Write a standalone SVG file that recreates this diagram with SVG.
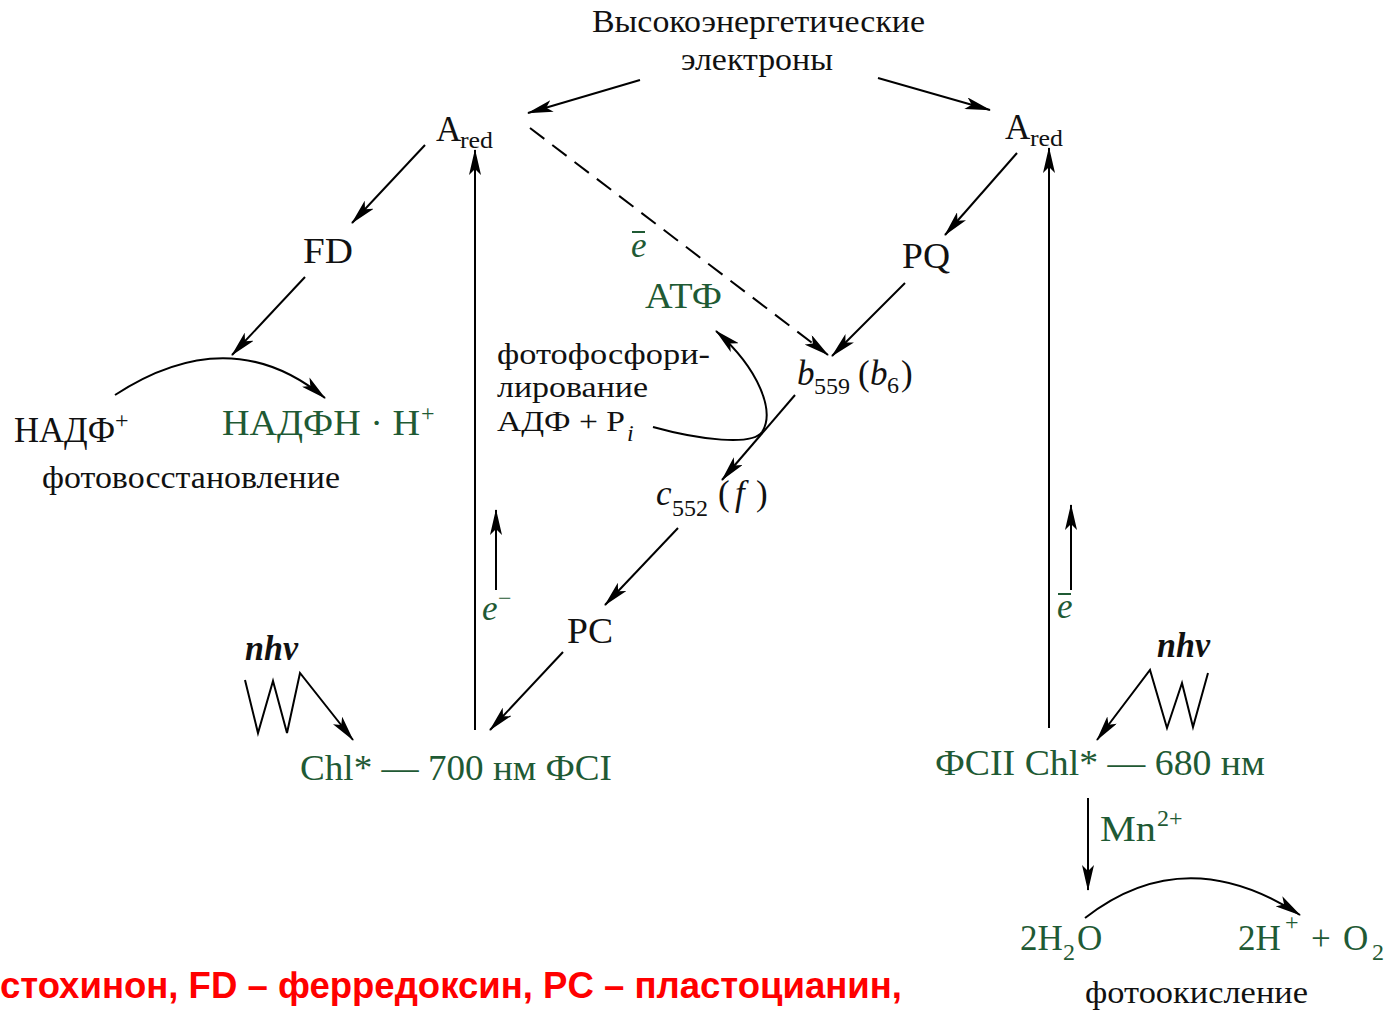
<svg xmlns="http://www.w3.org/2000/svg" width="1395" height="1011" viewBox="0 0 1395 1011">
<defs>
<marker id="ah" viewBox="0 0 26 12" refX="25" refY="6" markerWidth="26" markerHeight="12" orient="auto" markerUnits="userSpaceOnUse">
<path d="M0,0 L26,6 L0,12 L6,6 z" fill="#000"/>
</marker>
<style>
.t{font-family:"Liberation Serif","Times New Roman",serif;font-size:35px;fill:#111}
.g{fill:#1f5a34}
.i{font-style:italic}
.sm{font-size:32px}
.xs{font-size:29px}
.sub{font-size:24px}
.c{fill:none;stroke:#000;stroke-width:2}
.a{marker-end:url(#ah)}
.red{font-family:"Liberation Sans",Arial,sans-serif;font-weight:bold;font-size:37px;fill:#ff0000}
</style>
</defs>
<rect width="1395" height="1011" fill="#fff"/>

<g id="connectors">
<line class="c a" x1="640" y1="80" x2="528" y2="113"/>
<line class="c a" x1="878" y1="78" x2="990" y2="110"/>
<line class="c a" x1="425" y1="145" x2="352" y2="223"/>
<line class="c a" x1="305" y1="277" x2="232" y2="355"/>
<path class="c a" d="M115,395 Q230,320 325,398"/>
<line class="c a" x1="475" y1="730" x2="475" y2="150"/>
<line class="c a" x1="530" y1="128" x2="828" y2="355" stroke-dasharray="18,10"/>
<line class="c a" x1="1017" y1="153" x2="945" y2="235"/>
<line class="c a" x1="905" y1="283" x2="832" y2="356"/>
<line class="c a" x1="1049" y1="728" x2="1049" y2="148"/>
<line class="c a" x1="795" y1="395" x2="722" y2="480"/>
<path class="c a" d="M653,427 C700,440 752,446 762,432 C775,412 760,370 716,331"/>
<line class="c a" x1="678" y1="528" x2="605" y2="605"/>
<line class="c a" x1="563" y1="652" x2="490" y2="730"/>
<line class="c a" x1="496" y1="590" x2="496" y2="510"/>
<path class="c a" d="M245,680 L258,733 L273,681 L287,733 L300,673 L353,740"/>
<line class="c a" x1="1071" y1="590" x2="1071" y2="505"/>
<path class="c a" d="M1208,673 L1193,727 L1182,683 L1167,728 L1150,670 L1097,740"/>
<line class="c a" x1="1088" y1="798" x2="1088" y2="890"/>
<path class="c a" d="M1085,918 Q1185,840 1300,915"/>
</g>

<g id="header">
<text class="t sm" x="592" y="32" textLength="333" lengthAdjust="spacingAndGlyphs">Высокоэнергетические</text>
<text class="t sm" x="681" y="70" textLength="152" lengthAdjust="spacingAndGlyphs">электроны</text>
</g>

<g id="ared-left">
<text class="t" x="436" y="141" font-size="37">A</text>
<text class="t sub" x="460" y="148" textLength="33" lengthAdjust="spacingAndGlyphs">red</text>
</g>
<g id="ared-right">
<text class="t" x="1005" y="139" font-size="37">A</text>
<text class="t sub" x="1030" y="146" textLength="33" lengthAdjust="spacingAndGlyphs">red</text>
</g>

<g id="fd"><text class="t" x="303" y="263" textLength="50" lengthAdjust="spacingAndGlyphs">FD</text></g>
<g id="pq"><text class="t" x="902" y="268" textLength="48" lengthAdjust="spacingAndGlyphs">PQ</text></g>

<g id="nadp">
<text class="t" x="14" y="442" textLength="101" lengthAdjust="spacingAndGlyphs">НАДФ</text>
<text class="t sub" x="115" y="428">+</text>
</g>
<g id="nadph">
<text class="t g" x="222" y="435" textLength="198" lengthAdjust="spacingAndGlyphs">НАДФН · Н</text>
<text class="t g sub" x="421" y="421">+</text>
</g>
<g id="photoreduction">
<text class="t sm" x="42" y="488" textLength="298" lengthAdjust="spacingAndGlyphs">фотовосстановление</text>
</g>

<g id="e-cyclic">
<text class="t g i" x="631" y="257">e</text>
<line x1="632" y1="232" x2="645" y2="232" stroke="#1f5a34" stroke-width="2"/>
</g>
<g id="atp"><text class="t g" x="645" y="308" textLength="77" lengthAdjust="spacingAndGlyphs">АТФ</text></g>

<g id="photophos">
<text class="t xs" x="497" y="364" textLength="213" lengthAdjust="spacingAndGlyphs">фотофосфори-</text>
<text class="t xs" x="497" y="397" textLength="151" lengthAdjust="spacingAndGlyphs">лирование</text>
<text class="t xs" x="497" y="431" textLength="128" lengthAdjust="spacingAndGlyphs">АДФ + P</text>
<text class="t i sub" x="627" y="441">i</text>
</g>

<g id="b559">
<text class="t i" x="797" y="385">b</text>
<text class="t sub" x="814" y="394">559</text>
<text class="t" x="858" y="385">(</text>
<text class="t i" x="870" y="385">b</text>
<text class="t sub" x="887" y="393">6</text>
<text class="t" x="901" y="385">)</text>
</g>

<g id="c552">
<text class="t i" x="656" y="505">c</text>
<text class="t sub" x="672" y="516">552</text>
<text class="t" x="718" y="505">(</text>
<text class="t i" x="735" y="505">f</text>
<text class="t" x="756" y="505">)</text>
</g>

<g id="pc"><text class="t" x="567" y="643" textLength="46" lengthAdjust="spacingAndGlyphs">PC</text></g>

<g id="e-left">
<text class="t g i" x="482" y="620">e</text>
<text class="t g sub" x="498" y="606">−</text>
</g>

<g id="nhv-left"><text class="t i" x="245" y="660" font-weight="bold" textLength="53" lengthAdjust="spacingAndGlyphs">nhv</text></g>
<g id="ps1"><text class="t g" x="300" y="780" textLength="312" lengthAdjust="spacingAndGlyphs">Chl* — 700 нм ФСI</text></g>

<g id="e-right">
<text class="t g i" x="1057" y="618">e</text>
<line x1="1058" y1="594" x2="1071" y2="594" stroke="#1f5a34" stroke-width="2"/>
</g>
<g id="nhv-right"><text class="t i" x="1157" y="657" font-weight="bold" textLength="53" lengthAdjust="spacingAndGlyphs">nhv</text></g>
<g id="ps2"><text class="t g" x="935" y="775" textLength="330" lengthAdjust="spacingAndGlyphs">ФСII Chl* — 680 нм</text></g>

<g id="mn">
<text class="t g" x="1100" y="841" textLength="56" lengthAdjust="spacingAndGlyphs">Mn</text>
<text class="t g sub" x="1157" y="826">2+</text>
</g>

<g id="water">
<text class="t g" x="1020" y="950">2H</text>
<text class="t g sub" x="1063" y="960">2</text>
<text class="t g" x="1077" y="950">O</text>
</g>
<g id="products">
<text class="t g" x="1238" y="950">2H</text>
<text class="t g sub" x="1285" y="930">+</text>
<text class="t g" x="1311" y="950">+</text>
<text class="t g" x="1343" y="950">O</text>
<text class="t g sub" x="1372" y="960">2</text>
</g>
<g id="photooxidation">
<text class="t sm" x="1085" y="1003" textLength="223" lengthAdjust="spacingAndGlyphs">фотоокисление</text>
</g>

<g id="legend">
<text class="red" x="0" y="998" textLength="902" lengthAdjust="spacingAndGlyphs">стохинон, FD – ферредоксин, PC – пластоцианин,</text>
</g>
</svg>
